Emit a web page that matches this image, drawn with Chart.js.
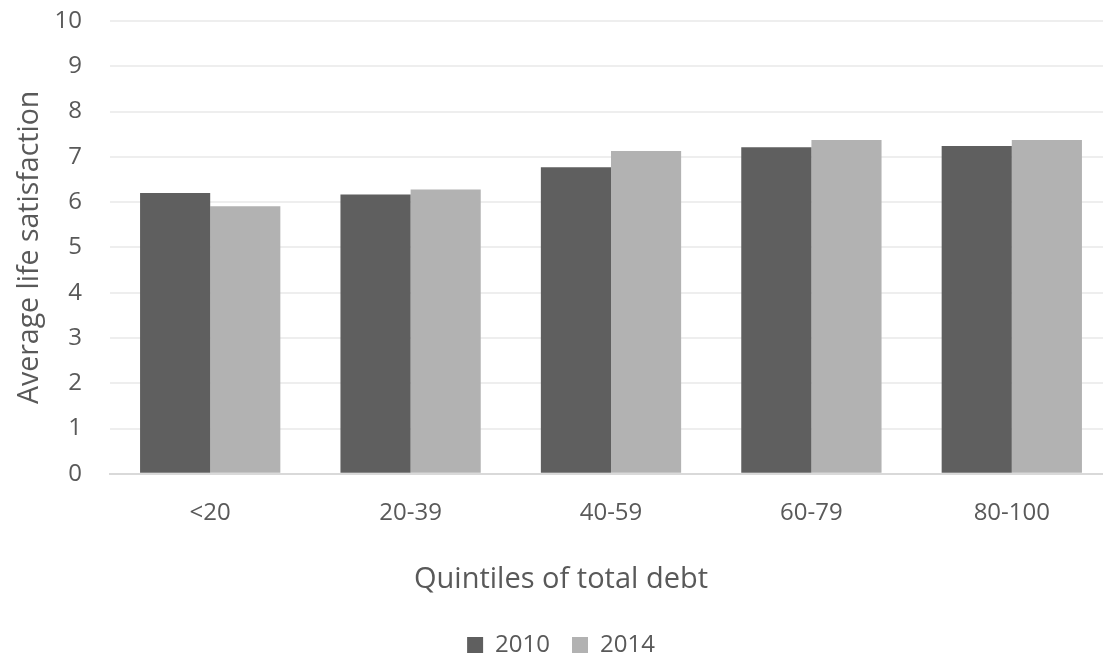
<!DOCTYPE html>
<html>
<head>
<meta charset="utf-8">
<script src="https://cdn.jsdelivr.net/npm/chart.js@4/dist/chart.umd.min.js"></script>
<style>
html,body{margin:0;padding:0;background:#fff;overflow:hidden;}
#wrap{width:1112px;height:659px;position:relative;}
</style>
</head>
<body>
<div id="wrap"><canvas id="c"></canvas></div>
<script>
const categories = ['<20', '20-39', '40-59', '60-79', '80-100'];
const values2010 = [6.2, 6.17, 6.77, 7.21, 7.24];
const values2014 = [5.91, 6.28, 7.13, 7.37, 7.37];
const seriesNames = ['2010', '2014'];
const yTicks = [0, 1, 2, 3, 4, 5, 6, 7, 8, 9, 10];
const yTitle = 'Average life satisfaction';
const xTitle = 'Quintiles of total debt';

const FONT = "'Open Sans', sans-serif";
const TXT = '#595959';

new Chart(document.getElementById('c'), {
  type: 'bar',
  data: {
    labels: categories,
    datasets: [
      { label: seriesNames[0], data: values2010, backgroundColor: '#5f5f5f', borderWidth: 0 },
      { label: seriesNames[1], data: values2014, backgroundColor: '#b2b2b2', borderWidth: 0 }
    ]
  },
  options: {
    responsive: true,
    maintainAspectRatio: false,
    animation: false,
    datasets: { bar: { categoryPercentage: 0.7, barPercentage: 1.0 } },
    layout: { padding: { top: 21, left: 10, right: 0, bottom: 0 } },
    scales: {
      x: {
        grid: { display: false, drawTicks: false },
        border: { display: true, color: '#d9d9d9', width: 2 },
        ticks: { color: TXT, font: { family: FONT, size: 24 }, padding: 25, maxRotation: 0 }
      },
      y: {
        min: 0, max: 10,
        afterFit: (s) => { s.width = 100; },
        afterBuildTicks: (s) => { s.ticks = yTicks.map(v => ({ value: v })); },
        grid: { color: '#eeeeee', lineWidth: 2, drawTicks: true, tickLength: 28, tickColor: 'rgba(0,0,0,0)' },
        border: { display: false },
        ticks: { color: TXT, font: { family: FONT, size: 24 }, padding: 0 },
        title: { display: true, text: yTitle, color: TXT, font: { family: FONT, size: 28.5 }, padding: { top: 3, bottom: 0 } }
      }
    },
    plugins: {
      tooltip: { enabled: false },
      title: {
        display: true, position: 'bottom', weight: 500, text: xTitle, color: TXT,
        font: { family: FONT, size: 29, weight: 'normal' }, padding: { top: 9.6, bottom: 14 }
      },
      legend: {
        position: 'bottom',
        maxHeight: 48,
        labels: { color: TXT, font: { family: FONT, size: 24 }, boxWidth: 16, boxHeight: 16, padding: 22 }
      }
    }
  }
});
</script>
</body>
</html>
